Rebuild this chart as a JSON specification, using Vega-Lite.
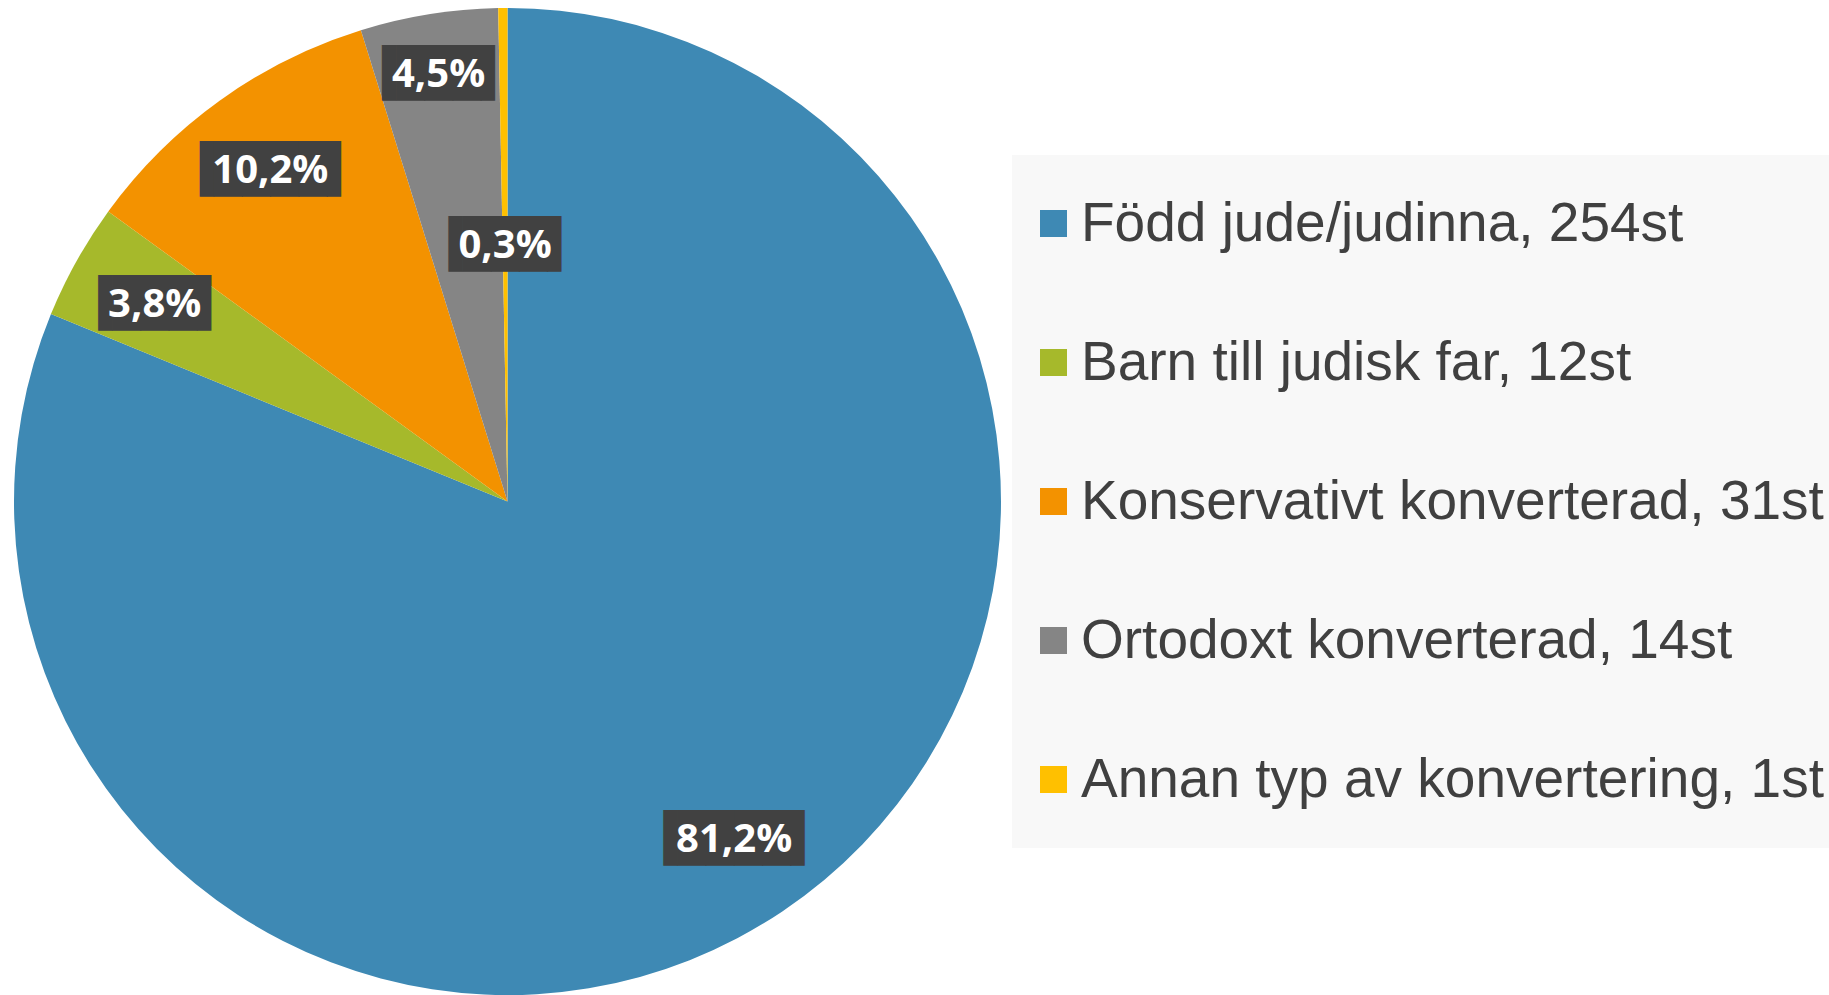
{
  "$schema": "https://vega.github.io/schema/vega-lite/v6.json",
  "width": 987,
  "height": 987,
  "autosize": {"type": "none"},
  "padding": {"left": 14, "top": 8, "right": 828, "bottom": 0},
  "background": "white",
  "config": {
    "view": {"stroke": null},
    "locale": {"number": {"decimal": ",", "thousands": " ", "grouping": [3], "currency": ["", " kr"]}}
  },
  "data": {
    "values": [
      {"nr": 1, "kategori": "Född jude/judinna, 254st", "antal": 254, "andel": 0.812},
      {"nr": 2, "kategori": "Barn till judisk far, 12st", "antal": 12, "andel": 0.038},
      {"nr": 3, "kategori": "Konservativt konverterad, 31st", "antal": 31, "andel": 0.102},
      {"nr": 4, "kategori": "Ortodoxt konverterad, 14st", "antal": 14, "andel": 0.045},
      {"nr": 5, "kategori": "Annan typ av konvertering, 1st", "antal": 1, "andel": 0.003}
    ]
  },
  "encoding": {
    "theta": {"field": "andel", "type": "quantitative", "stack": true},
    "order": {"field": "nr", "type": "quantitative"}
  },
  "layer": [
    {
      "mark": {"type": "arc", "stroke": null},
      "encoding": {
        "color": {
          "field": "kategori",
          "type": "nominal",
          "scale": {
            "domain": ["Född jude/judinna, 254st", "Barn till judisk far, 12st", "Konservativt konverterad, 31st", "Ortodoxt konverterad, 14st", "Annan typ av konvertering, 1st"],
            "range": ["#3E89B4", "#A6B92B", "#F39200", "#858585", "#FFC000"]
          },
          "legend": {
            "title": null,
            "orient": "none",
            "legendX": 998,
            "legendY": 147,
            "fillColor": "#F8F8F8",
            "padding": 14,
            "rowPadding": 30,
            "clipHeight": 109,
            "symbolType": "square",
            "symbolSize": 729,
            "symbolStrokeWidth": 0,
            "symbolOpacity": 1,
            "labelFont": "Liberation Sans",
            "labelFontSize": 55,
            "labelColor": "#404040",
            "labelOffset": 0,
            "labelLimit": 0
          }
        }
      }
    },
    {
      "mark": {"type": "text", "font": "DejaVu Sans Mono", "fontSize": 47, "color": "#414141"},
      "encoding": {
        "radius": {"field": "andel", "type": "quantitative", "scale": {"type": "linear", "domain": [0.003, 0.038, 0.045, 0.102], "range": [256, 404, 432, 407], "clamp": true, "zero": false, "nice": false}},
        "text": {"condition": {"test": "datum.andel >= 0.1", "value": "▐████▌"}, "value": "▐███▌"}
      }
    },
    {
      "mark": {"type": "text", "font": "Open Sans", "fontWeight": "bold", "fontSize": 40, "color": "white"},
      "encoding": {
        "radius": {"field": "andel", "type": "quantitative", "scale": {"type": "linear", "domain": [0.003, 0.038, 0.045, 0.102], "range": [256, 404, 432, 407], "clamp": true, "zero": false, "nice": false}},
        "text": {"field": "andel", "type": "quantitative", "format": ".1%"}
      }
    }
  ]
}
